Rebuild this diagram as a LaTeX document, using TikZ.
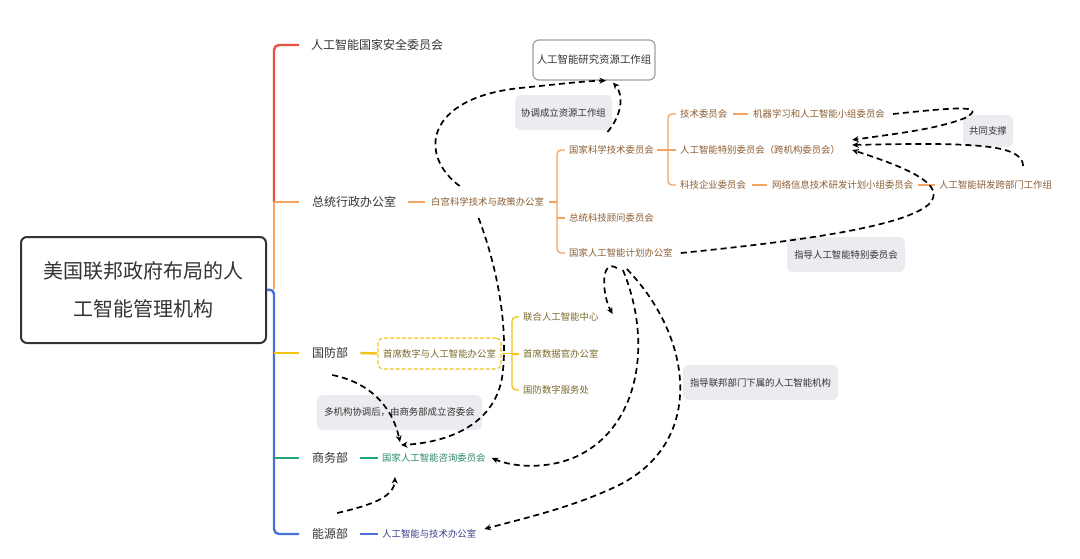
\documentclass[tikz,border=0pt]{standalone}
\usepackage{fontspec}
\setmainfont{Noto Sans CJK SC}
\usetikzlibrary{arrows.meta,calc}
\definecolor{cred}{HTML}{E8533F}
\definecolor{corange}{HTML}{F5A460}
\definecolor{cyellow}{HTML}{F2C417}
\definecolor{cgreen}{HTML}{22A874}
\definecolor{cblue}{HTML}{4A6FD8}
\definecolor{tmain}{HTML}{333333}
\definecolor{tor}{HTML}{8C5E34}
\definecolor{tye}{HTML}{7A6A2A}
\definecolor{tgr}{HTML}{2E8B66}
\definecolor{tbl}{HTML}{3A3F8F}
\definecolor{lblfill}{HTML}{ECECF0}
\definecolor{boxgray}{HTML}{A0A0A0}
\begin{document}
\begin{tikzpicture}[x=1pt,y=-1pt,
  main/.style={anchor=west, inner sep=0pt, text=tmain, font=\fontsize{12}{14}\selectfont},
  sub/.style={anchor=west, inner sep=0pt, font=\fontsize{9.4}{11}\selectfont},
  lbl/.style={fill=lblfill, rounded corners=6pt, text=tmain, font=\fontsize{9.4}{11}\selectfont, minimum height=35pt, inner xsep=6pt, inner ysep=0pt},
  trunk/.style={line width=2.4pt, rounded corners=5pt},
  thick2/.style={line width=2.4pt},
  br/.style={line width=1.3pt, rounded corners=4pt},
  dsh/.style={line width=1.7pt, dash pattern=on 6pt off 4pt, -{Stealth[length=6.5pt,width=6pt]}},
]
\fill[white] (0,0) rectangle (1080,558);
\useasboundingbox (0,0) rectangle (1080,558);

% root
\node[draw=tmain, line width=2pt, rounded corners=6pt, minimum width=245pt, minimum height=106pt, align=center, font=\fontsize{20}{38}\selectfont, text=tmain] (root) at (143.5,290) {美国联邦政府布局的人\\工智能管理机构};

% main branches
\node[main] (sec) at (311,45) {人工智能国家安全委员会};
\node[main] (eop) at (312,202) {总统行政办公室};
\node[main] (dod) at (312,353) {国防部};
\node[main] (doc) at (312,458) {商务部};
\node[main] (doe) at (312,534) {能源部};

% orange sub tree
\node[sub,text=tor] (ostp) at (431,202) {白宫科学技术与政策办公室};
\node[sub,text=tor] (nstc) at (569,150) {国家科学技术委员会};
\node[sub,text=tor] (pcast) at (569,218) {总统科技顾问委员会};
\node[sub,text=tor] (nco) at (569,253) {国家人工智能计划办公室};
\node[sub,text=tor] (tc) at (680,114) {技术委员会};
\node[sub,text=tor] (mlai) at (753,114) {机器学习和人工智能小组委员会};
\node[sub,text=tor] (sel) at (680,150) {人工智能特别委员会（跨机构委员会）};
\node[sub,text=tor] (tec) at (680,185) {科技企业委员会};
\node[sub,text=tor] (nitrd) at (772,185) {网络信息技术研发计划小组委员会};
\node[sub,text=tor] (iwg) at (939,185) {人工智能研发跨部门工作组};

% yellow sub tree
\node[draw=cyellow, line width=1.1pt, dash pattern=on 4pt off 2pt, rounded corners=5pt, minimum width=123pt, minimum height=31pt, inner sep=0pt, text=tye, font=\fontsize{9.4}{11}\selectfont] (cdao) at (439.5,353.5) {首席数字与人工智能办公室};
\node[sub,text=tye] (jaic) at (523,317) {联合人工智能中心};
\node[sub,text=tye] (cdo) at (523,354) {首席数据官办公室};
\node[sub,text=tye] (dds) at (523,390) {国防数字服务处};

% green / blue
\node[sub,text=tgr] (naiac) at (382,458) {国家人工智能咨询委员会};
\node[sub,text=tbl] (aito) at (382,534) {人工智能与技术办公室};

% boxes and labels
\node[draw=boxgray, fill=white, line width=1.2pt, rounded corners=6pt, minimum width=122pt, minimum height=40pt, inner sep=0pt, text=tmain, font=\fontsize{10.4}{12}\selectfont] (wg) at (594,60) {人工智能研究资源工作组};
\node[lbl, minimum width=97pt] (l1) at (563.5,112.5) {协调成立资源工作组};
\node[lbl, minimum width=50pt, minimum height=32pt] (l2) at (988,131) {共同支撑};
\node[lbl, minimum width=118pt] (l3) at (846,254.5) {指导人工智能特别委员会};
\node[lbl, minimum width=155pt] (l4) at (760.5,382.5) {指导联邦部门下属的人工智能机构};
\node[lbl, minimum width=165pt] (l5) at (399.5,412.5) {多机构协调后，由商务部成立咨委会};

% trunk
\coordinate (tk) at (274,289);
\draw[trunk, cred] ([xshift=-12pt]sec.west) -| (tk |- eop);
\draw[thick2, corange] ([xshift=-13pt]eop.west) -- (tk |- eop);
\draw[thick2, corange] (tk |- eop) -- (tk);
\draw[trunk, cblue] (root.east) -- (tk) |- ([xshift=-13pt]doe.west);
\draw[thick2, cyellow] (tk |- dod) -- ([xshift=-13pt]dod.west);
\draw[thick2, cgreen] (tk |- doc) -- ([xshift=-13pt]doc.west);

% second level
\draw[thick2, corange] ([xshift=12pt]eop.east) -- ([xshift=-6pt]ostp.west);
\draw[thick2, cyellow] ([xshift=12pt]dod.east) -- (cdao.west);
\draw[thick2, cgreen] ([xshift=12pt]doc.east) -- ([xshift=-4pt]naiac.west);
\draw[thick2, cblue] ([xshift=12pt]doe.east) -- ([xshift=-4pt]aito.west);

% orange brackets
\coordinate (b1) at (557,202);
\draw[corange, br] ([xshift=5pt]ostp.east) -- (b1);
\draw[corange, br] ([xshift=-4pt]nstc.west) -| (b1) |- ([xshift=-4pt]nco.west);
\draw[corange, br] (b1 |- pcast) -- ([xshift=-4pt]pcast.west);
\coordinate (b2) at (668,150);
\draw[corange, br] ([xshift=3pt]nstc.east) -- (b2);
\draw[corange, br] ([xshift=-4pt]tc.west) -| (b2) |- ([xshift=-4pt]tec.west);
\draw[corange, br] (b2) -- ([xshift=-4pt]sel.west);
\draw[corange, br] ([xshift=6pt]tc.east) -- ([xshift=-5pt]mlai.west);
\draw[corange, br] ([xshift=6pt]tec.east) -- ([xshift=-5pt]nitrd.west);
\draw[corange, br] ([xshift=5pt]nitrd.east) -- ([xshift=-4pt]iwg.west);

% yellow bracket
\coordinate (b3) at (512,353.5);
\draw[cyellow, br] (cdao.east) -- (b3);
\draw[cyellow, br] ([xshift=-4pt]jaic.west) -| (b3) |- ([xshift=-4pt]dds.west);
\draw[cyellow, br] (b3 |- cdo) -- ([xshift=-4pt]cdo.west);

% dashed arrows
\draw[dsh] ($(ostp.center)+(-28,-16)$) .. controls (418,155) and (425,98) .. (520,88) .. controls (560,84) and (585,81) .. ($(wg.south)+(12,0)$);
\draw[dsh] ($(nstc.center)+(-4,-18)$) .. controls (622,115) and (624,95) .. ($(wg.south)+(19,2)$);
\draw[dsh] ($(mlai.east)+(8,0)$) .. controls (950,108) and (990,104) .. (965,118) .. controls (935,130) and (885,135) .. ($(sel.east)+(12,-10)$);
\draw[dsh] ($(iwg.center)+(27.6,-19)$) .. controls (1022,145) and (980,142) .. ($(sel.east)+(12,-5)$);
\draw[dsh] ($(nco.east)+(8,0)$) .. controls (790,242) and (900,228) .. (928,205) .. controls (950,185) and (905,167) .. ($(sel.east)+(12,0)$);
\draw[dsh] ($(nco.center)+(-4,15)$) .. controls (600,258) and (602,295) .. ($(jaic.east)+(14,-3)$);
\draw[dsh] ($(nco.center)+(2,17)$) .. controls (652,340) and (640,420) .. (585,452) .. controls (555,470) and (515,468) .. ($(naiac.east)+(6,0)$);
\draw[dsh] ($(nco.center)+(6,16)$) .. controls (695,340) and (705,445) .. (615,487) .. controls (570,508) and (525,518) .. ($(aito.east)+(8,-5)$);
\draw[dsh] ($(dod.center)+(2,22)$) .. controls (368,382) and (392,405) .. ($(naiac.west)+(18,-16)$);
\draw[dsh] ($(ostp.center)+(-9,16)$) .. controls (500,275) and (507,330) .. (503,370) .. controls (499,420) and (455,442) .. ($(naiac.west)+(19,-13)$);
\draw[dsh] ($(doe.center)+(7,-21)$) .. controls (372,505) and (394,497) .. ($(naiac.west)+(13,19)$);
\end{tikzpicture}
\end{document}
